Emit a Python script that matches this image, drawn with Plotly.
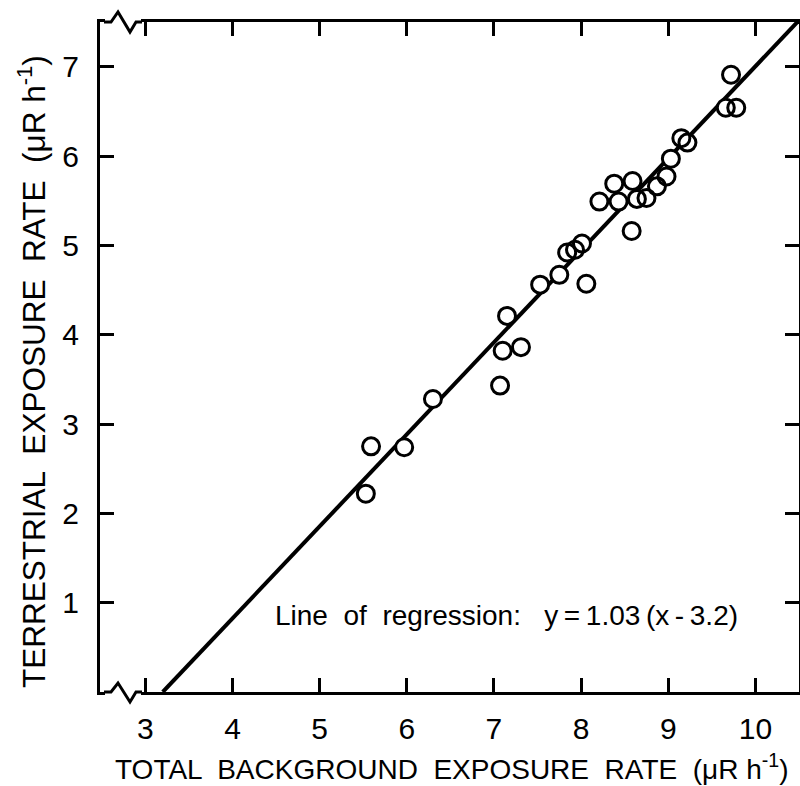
import plotly.graph_objects as go

# ---- data ----
total_rate = [5.53, 5.59, 5.97, 6.30, 7.07, 7.10, 7.15, 7.31, 7.53, 7.75,
              7.84, 7.93, 8.01, 8.06, 8.21, 8.38, 8.43, 8.59, 8.58, 8.64,
              8.75, 8.87, 8.98, 9.03, 9.15, 9.22, 9.66, 9.78, 9.72]
terrestrial_rate = [2.22, 2.75, 2.74, 3.28, 3.43, 3.82, 4.21, 3.86, 4.56, 4.67,
                    4.92, 4.95, 5.02, 4.57, 5.49, 5.69, 5.49, 5.72, 5.16, 5.52,
                    5.53, 5.66, 5.77, 5.97, 6.20, 6.15, 6.54, 6.54, 6.91]
reg_slope = 1.03
reg_x0 = 3.2
reg_x_ends = [3.2, 10.5]
reg_y_ends = [reg_slope * (x - reg_x0) for x in reg_x_ends]

x_ticks = [3, 4, 5, 6, 7, 8, 9, 10]
y_ticks = [1, 2, 3, 4, 5, 6, 7]

FONT = "Liberation Sans"
W, H = 800, 786
OFF = 0  # page body margin removed by post_script
# plot area in screen pixels
SL, SR, ST, SB = 100, 799, 22, 692
ML, MT = SL - OFF, ST - OFF
MR = W - (SR - OFF)
MB = H - (SB - OFF)
PW, PH = SR - SL, SB - ST


def px(xs):
    return (xs - SL) / PW


def py(ys):
    return (SB - ys) / PH


fig = go.Figure()

fig.add_trace(go.Scatter(x=reg_x_ends, y=reg_y_ends, mode="lines",
                         line=dict(color="black", width=4), hoverinfo="skip",
                         showlegend=False))
# white discs to break the line under circles
fig.add_trace(go.Scatter(x=total_rate, y=terrestrial_rate, mode="markers",
                         marker=dict(symbol="circle", size=17, color="white",
                                     line=dict(width=0)),
                         showlegend=False, hoverinfo="skip"))
fig.add_trace(go.Scatter(x=total_rate, y=terrestrial_rate, mode="markers",
                         marker=dict(symbol="circle-open", size=17, color="black",
                                     line=dict(width=3, color="black")),
                         showlegend=False))

# axis break zigzags
shapes = []
for base, up, dn in [(22, 12, 32), (692, 683, 702)]:
    shapes.append(dict(type="rect", xref="paper", yref="paper",
                       x0=px(105), x1=px(141), y0=py(base + 3), y1=py(base - 3),
                       fillcolor="white", line=dict(width=0), layer="above"))
    path = "M {},{} L {},{} L {},{} L {},{} L {},{} L {},{}".format(
        px(104), py(base), px(111), py(base), px(118), py(up),
        px(130), py(dn), px(136), py(base), px(142), py(base))
    shapes.append(dict(type="path", xref="paper", yref="paper", path=path,
                       line=dict(color="black", width=3), layer="above"))

annotations = [
    dict(text="Line  of  regression:   y\u2009=\u20091.03\u2009(x\u2009-\u20093.2)",
         x=px(506), y=py(615),
         xref="paper", yref="paper", showarrow=False, xanchor="center", yanchor="middle",
         font=dict(family=FONT, size=28, color="black")),
    dict(text="TOTAL  BACKGROUND  EXPOSURE  RATE  (\u03bcR h<sup>-1</sup>)",
         x=px(452), y=py(767), xref="paper", yref="paper", showarrow=False,
         xanchor="center", yanchor="middle",
         font=dict(family=FONT, size=28, color="black")),
    dict(text="TERRESTRIAL  EXPOSURE  RATE  (\u03bcR h<sup>-1</sup>)",
         x=px(32), y=py(372), xref="paper", yref="paper", showarrow=False,
         xanchor="center", yanchor="middle",
         textangle=-90, font=dict(family=FONT, size=31.5, color="black")),
]

axis_common = dict(showline=True, linecolor="black", linewidth=3, mirror="ticks",
                   ticks="inside", ticklen=14, tickwidth=3, tickcolor="black",
                   showgrid=False, zeroline=False,
                   tickfont=dict(family=FONT, size=30, color="black"))

fig.update_layout(
    width=W, height=H,
    margin=dict(l=ML, r=MR, t=MT, b=MB, autoexpand=False),
    paper_bgcolor="white", plot_bgcolor="white",
    xaxis=dict(range=[2.48, 10.5], tickvals=x_ticks, ticklabelstandoff=8, **axis_common),
    yaxis=dict(range=[0, 7.5], tickvals=y_ticks, ticklabelstandoff=12, **axis_common),
    shapes=shapes, annotations=annotations,
)

fig.write_html("out.html", config={"displayModeBar": False},
               post_script="document.body.style.margin='0';document.body.style.overflow='hidden';")
